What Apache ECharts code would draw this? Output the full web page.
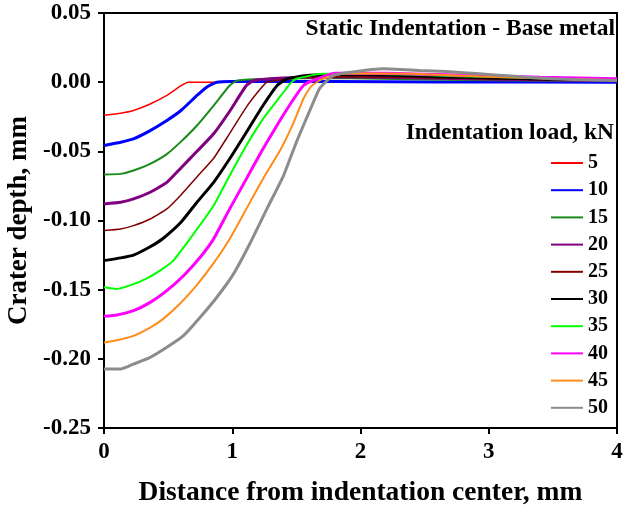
<!DOCTYPE html>
<html>
<head>
<meta charset="utf-8">
<script src="https://cdn.jsdelivr.net/npm/echarts@6/dist/echarts.min.js"></script>
<style>
  html, body { margin: 0; padding: 0; background: #fff; }
  #chart { width: 624px; height: 510px; }
</style>
</head>
<body>
<div id="chart"></div>
<script>
// crater profiles, [distance mm, depth mm]
const loadNames = ['5', '10', '15', '20', '25', '30', '35', '40', '45', '50'];

const load5 = [[0,-0.024],[0.13,-0.0225],[0.23,-0.0205],[0.36,-0.0158],[0.49,-0.0096],[0.6,-0.0025],[0.66,0],[1.0,0],[2.0,0],[3.0,0],[4.0,0]];
const load10 = [[0,-0.0458],[0.13,-0.0434],[0.23,-0.041],[0.36,-0.035],[0.49,-0.0277],[0.6,-0.0205],[0.725,-0.0096],[0.8,-0.0036],[0.88,0],[1.2,0.0006],[1.8,0.0005],[2.6,0.0002],[4,0]];
const load15 = [[0,-0.0668],[0.13,-0.0663],[0.23,-0.0639],[0.36,-0.059],[0.49,-0.052],[0.6,-0.043],[0.725,-0.0313],[0.855,-0.0169],[0.98,-0.0024],[1.04,0.0012],[1.3,0.0025],[1.8,0.003],[2.5,0.002],[3.2,0.0012],[4,0.0008]];
const load20 = [[0,-0.088],[0.13,-0.0868],[0.23,-0.0844],[0.36,-0.0796],[0.49,-0.0724],[0.6,-0.062],[0.725,-0.05],[0.855,-0.0373],[0.98,-0.021],[1.11,-0.0024],[1.17,0.0012],[1.4,0.003],[1.8,0.004],[2.5,0.003],[3.2,0.002],[4,0.001]];
const load25 = [[0,-0.1073],[0.13,-0.1061],[0.23,-0.1037],[0.36,-0.0989],[0.49,-0.0916],[0.6,-0.0815],[0.725,-0.0685],[0.855,-0.055],[0.98,-0.037],[1.11,-0.018],[1.22,-0.0048],[1.27,0],[1.5,0.003],[1.9,0.004],[2.6,0.003],[3.3,0.002],[4,0.001]];
const load30 = [[0,-0.129],[0.13,-0.127],[0.23,-0.125],[0.36,-0.119],[0.46,-0.113],[0.6,-0.1013],[0.725,-0.0868],[0.855,-0.0724],[0.98,-0.0554],[1.11,-0.0362],[1.24,-0.0169],[1.35,-0.0024],[1.43,0.0025],[1.6,0.005],[2.0,0.0055],[2.6,0.004],[3.3,0.0025],[4,0.0015]];
const load35 = [[0,-0.1483],[0.1,-0.1495],[0.23,-0.146],[0.33,-0.142],[0.44,-0.136],[0.54,-0.129],[0.67,-0.1133],[0.855,-0.0892],[0.98,-0.0675],[1.11,-0.0458],[1.24,-0.0265],[1.38,-0.0096],[1.45,-0.0012],[1.5,0.0025],[1.7,0.006],[2.1,0.006],[2.7,0.0045],[3.4,0.003],[4,0.002]];
const load40 = [[0,-0.1693],[0.1,-0.1683],[0.23,-0.1652],[0.36,-0.1592],[0.49,-0.1507],[0.62,-0.1399],[0.75,-0.1266],[0.855,-0.1133],[0.98,-0.0916],[1.11,-0.0699],[1.24,-0.0482],[1.38,-0.0265],[1.48,-0.012],[1.555,-0.0024],[1.63,0.0012],[1.8,0.0065],[2.2,0.0065],[2.8,0.005],[3.4,0.0035],[4,0.0025]];
const load45 = [[0,-0.1882],[0.1,-0.1865],[0.23,-0.1834],[0.36,-0.1774],[0.46,-0.1713],[0.59,-0.1604],[0.72,-0.1471],[0.85,-0.1314],[0.98,-0.1133],[1.11,-0.0916],[1.24,-0.0699],[1.38,-0.0482],[1.48,-0.0289],[1.555,-0.012],[1.61,-0.0036],[1.68,0.0012],[1.74,0.0036],[1.9,0.0065],[2.4,0.006],[3.0,0.004],[3.5,0.0025],[4,0.0015]];
const load50 = [[0,-0.2074],[0.13,-0.2074],[0.23,-0.2038],[0.36,-0.199],[0.49,-0.1917],[0.62,-0.1833],[0.75,-0.17],[0.88,-0.1555],[1.01,-0.1386],[1.14,-0.1163],[1.27,-0.0916],[1.4,-0.0675],[1.5,-0.0434],[1.61,-0.0193],[1.68,-0.0048],[1.74,0.0012],[1.79,0.005],[1.92,0.0072],[2.18,0.0097],[2.46,0.0085],[2.67,0.0077],[2.93,0.006],[3.11,0.0048],[3.29,0.0036],[3.5,0.0024],[3.71,0.0017],[4,0.0012]];

const profiles = [load5, load10, load15, load20, load25, load30, load35, load40, load45, load50];

const colors = ['#ff0000', '#0000ff', '#1a8a1a', '#800080', '#800000', '#000000', '#00ff00', '#ff00ff', '#ff8c1a', '#8c8c8c'];
const widths = [1.5, 3, 2, 3, 1.5, 3, 2, 3, 2, 3];

const font = '"Liberation Serif", "Times New Roman", serif';

const chart = echarts.init(document.getElementById('chart'));

const series = profiles.map(function (d, i) {
  return {
    name: loadNames[i],
    type: 'line',
    data: d,
    symbol: 'none',
    smooth: 0.15,
    lineStyle: { color: colors[i], width: widths[i] },
    itemStyle: { color: colors[i] }
  };
});

chart.setOption({
  animation: false,
  backgroundColor: '#fff',
  title: [
    {
      text: 'Static Indentation - Base metal',
      right: 9, top: 17, padding: 0,
      textStyle: { fontFamily: font, fontWeight: 'bold', fontSize: 23.5, color: '#000' }
    },
    {
      text: 'Indentation load, kN',
      right: 10, top: 121, padding: 0,
      textStyle: { fontFamily: font, fontWeight: 'bold', fontSize: 23.5, color: '#000' }
    }
  ],
  legend: {
    orient: 'vertical',
    left: 550, top: 153, padding: 0,
    itemWidth: 32, itemHeight: 19, itemGap: 7.2,
    itemStyle: { opacity: 0 },
    textStyle: { fontFamily: font, fontWeight: 'bold', fontSize: 20, lineHeight: 19, color: '#000' },
    data: loadNames
  },
  grid: {
    left: 104, right: 7, top: 13, bottom: 82,
    outerBoundsMode: 'none',
    show: true, borderColor: '#000', borderWidth: 2, backgroundColor: 'transparent'
  },
  xAxis: {
    type: 'value', min: 0, max: 4, interval: 1,
    name: 'Distance from indentation center, mm',
    nameLocation: 'middle', nameGap: 51,
    nameTextStyle: { fontFamily: font, fontWeight: 'bold', fontSize: 27.5, color: '#000' },
    axisLine: { onZero: false, lineStyle: { color: '#000', width: 2 } },
    axisTick: { inside: false, length: 6, lineStyle: { color: '#000', width: 2 } },
    axisLabel: { margin: 13, fontFamily: font, fontWeight: 'bold', fontSize: 23, color: '#000' },
    splitLine: { show: false }
  },
  yAxis: {
    type: 'value', min: -0.25, max: 0.05, interval: 0.05,
    name: 'Crater depth, mm',
    nameLocation: 'middle', nameGap: 70,
    nameTextStyle: { fontFamily: font, fontWeight: 'bold', fontSize: 27, color: '#000' },
    axisLine: { onZero: false, lineStyle: { color: '#000', width: 2 } },
    axisTick: { inside: false, length: 6, lineStyle: { color: '#000', width: 2 } },
    axisLabel: {
      margin: 13, fontFamily: font, fontWeight: 'bold', fontSize: 23, color: '#000',
      formatter: function (v) { return v.toFixed(2); }
    },
    splitLine: { show: false }
  },
  series: series
});
</script>
</body>
</html>
